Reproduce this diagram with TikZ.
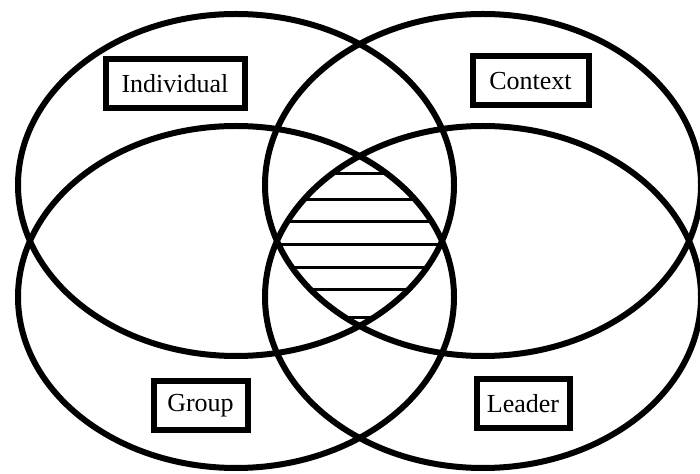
\documentclass[tikz,border=0pt]{standalone}
\usepackage{fontspec}
\setmainfont{Liberation Serif}
\usetikzlibrary{positioning}

\begin{document}
\begin{tikzpicture}[
  x=1pt, y=1pt, font=\fontsize{26}{30}\selectfont,
  ring/.style={draw=black, line width=6pt},
  hatch/.style={draw=black, line width=3pt},
  lbox/.style={draw=black, fill=white, line width=6pt, inner sep=4pt,
               minimum height=49pt, align=center},
]
\useasboundingbox (0,0) rectangle (700,473);

% ============================================================ core hatching
\begin{scope}
  \clip (236,288) ellipse [x radius=218, y radius=171];
  \clip (483,288) ellipse [x radius=218, y radius=171];
  \clip (236,176) ellipse [x radius=218, y radius=171];
  \clip (483,176) ellipse [x radius=218, y radius=171];
  \foreach \yy in {299,273,251,228,205,183,155}
    \draw[hatch] (270,\yy) -- (450,\yy);
\end{scope}

% ============================================================ ellipses
\draw[ring] (236,288) ellipse [x radius=218, y radius=171]; % individual
\draw[ring] (483,288) ellipse [x radius=218, y radius=171]; % context
\draw[ring] (236,176) ellipse [x radius=218, y radius=171]; % group
\draw[ring] (483,176) ellipse [x radius=218, y radius=171]; % leader

% ============================================================ labels
\node[lbox, minimum width=139pt] at (175,389.5) (ind) {Individual};
\node[lbox, minimum width=116pt] at (530.5,392) (ctx) {Context};
\node[lbox, minimum width=94pt]  at (200.5,67)  (grp) {Group};
\node[lbox, minimum width=93pt]  at (523,69)    (ldr) {Leader};

\end{tikzpicture}
\end{document}
